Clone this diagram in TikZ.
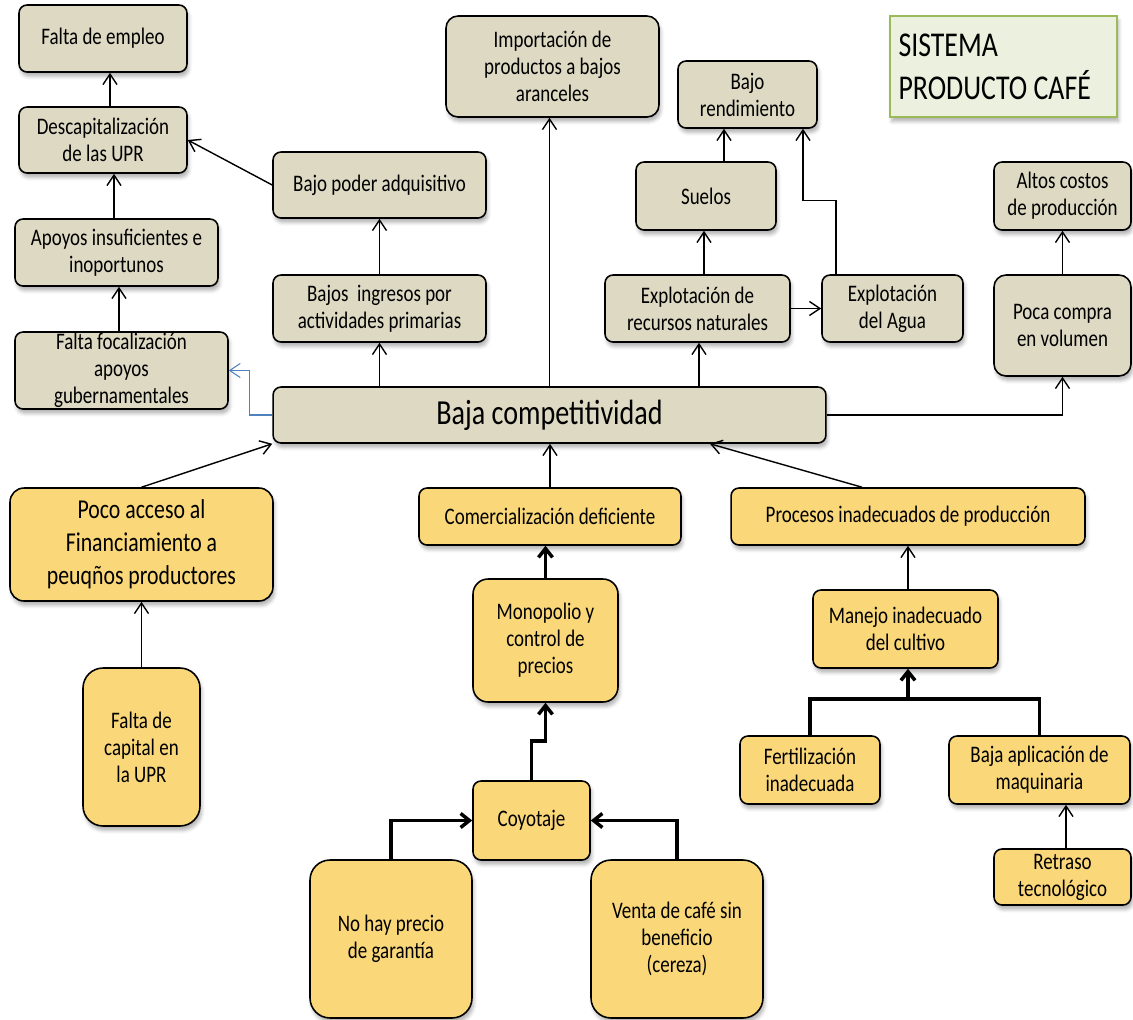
\documentclass[tikz,border=0pt]{standalone}
\usepackage{fontspec}
\setmainfont{Carlito}[FakeStretch=0.8]
\usetikzlibrary{arrows.meta,shadows.blur}

\definecolor{tanfill}{RGB}{221,217,195}
\definecolor{ylwfill}{RGB}{250,216,122}
\definecolor{verdefill}{RGB}{235,241,222}
\definecolor{verdeline}{RGB}{155,187,89}
\definecolor{azul}{RGB}{79,129,189}

\tikzset{
  caja/.style={draw=black, line width=0.9pt, rounded corners=0.16cm, align=center,
    inner sep=2pt, font=\fontsize{13.5}{15.4}\selectfont,
    blur shadow={shadow xshift=1pt, shadow yshift=-2.5pt, shadow blur radius=2pt, shadow opacity=30}},
  cajatan/.style={caja, fill=tanfill},
  cajaamarilla/.style={caja, fill=ylwfill},
  tam/.style 2 args={minimum width=#1cm, minimum height=#2cm},
  flecha/.style={-{Straight Barb[length=6pt,width=8pt]}, line width=0.8pt},
  gruesa/.style={-{Straight Barb[length=5pt,width=8pt]}, line width=2pt},
}

\begin{document}
\begin{tikzpicture}[x=0.02cm, y=-0.02cm]
  \useasboundingbox (0,0) rectangle (1133,1019);

  % efectos
  \node[cajatan, tam={3.36}{1.34}] (empleo) at (103,38.5) {Falta de empleo};
  \node[cajatan, tam={3.36}{1.32}] (descap) at (103,140) {Descapitalización\\de las UPR};
  \node[cajatan, tam={4.06}{1.34}] (apoyos) at (116.5,252.5) {Apoyos insuficientes e\\inoportunos};
  \node[cajatan, tam={4.26}{1.54}, inner ysep=0pt] (focal) at (121.5,370.5) {Falta focalización\\apoyos\\gubernamentales};
  \node[cajatan, tam={4.26}{1.32}] (poder) at (379.5,185) {Bajo poder adquisitivo};
  \node[cajatan, tam={4.26}{1.34}] (ingresos) at (379.5,308.5) {Bajos~ ingresos por\\actividades primarias};
  \node[cajatan, tam={4.26}{2.02}, rounded corners=0.24cm] (import) at (552.5,66.5) {Importación de\\productos a bajos\\aranceles};
  \node[cajatan, tam={2.78}{1.34}] (rend) at (747.5,94.5) {Bajo\\rendimiento};
  \node[cajatan, tam={2.80}{1.36}] (suelos) at (706,196) {Suelos};
  \node[cajatan, tam={3.70}{1.34}] (recursos) at (697.5,308.5) {Explotación de\\recursos naturales};
  \node[cajatan, tam={2.82}{1.34}] (agua) at (892.5,308.5) {Explotación\\del Agua};
  \node[cajatan, tam={2.74}{1.36}] (costos) at (1062.5,196) {Altos costos\\de producción};
  \node[cajatan, tam={2.74}{2.02}, rounded corners=0.24cm] (compra) at (1062.5,325.5) {Poca compra\\en volumen};
  \node[cajatan, tam={11.06}{1.12}, font=\fontsize{20}{24}\selectfont] (baja) at (549.5,415) {Baja competitividad};

  \node[draw=verdeline, line width=1pt, fill=verdefill, tam={4.54}{2.02}, text width=4.2cm,
    align=flush left, inner xsep=0.17cm, font=\fontsize{19.8}{24.4}\selectfont,
    blur shadow={shadow xshift=1pt, shadow yshift=-2.5pt, shadow blur radius=2pt, shadow opacity=30}]
    (sistema) at (1003.5,66.5) {SISTEMA\\PRODUCTO CAFÉ};

  % causas
  \node[cajaamarilla, tam={5.26}{2.26}, rounded corners=0.28cm, font=\fontsize{15.5}{18.7}\selectfont] (poco) at (141.5,544.5) {Poco acceso al\\Financiamiento a\\peuqños productores};
  \node[cajaamarilla, tam={2.34}{3.16}, rounded corners=0.4cm] (capital) at (141.5,747) {Falta de\\capital en\\la UPR};
  \node[cajaamarilla, tam={5.24}{1.14}] (comerc) at (550,516.5) {Comercialización deficiente};
  \node[cajaamarilla, tam={7.08}{1.14}] (procesos) at (908,516.5) {Procesos inadecuados de producción};
  \node[cajaamarilla, tam={2.90}{2.46}, rounded corners=0.3cm] (monop) at (545.5,640.5) {Monopolio y\\control de\\precios};
  \node[cajaamarilla, tam={3.70}{1.56}] (manejo) at (905.5,629) {Manejo inadecuado\\del cultivo};
  \node[cajaamarilla, tam={2.80}{1.36}] (fert) at (810,770) {Fertilización\\inadecuada};
  \node[cajaamarilla, tam={3.62}{1.36}] (maquin) at (1039.5,770) {Baja aplicación de\\maquinaria};
  \node[cajaamarilla, tam={2.74}{1.12}, inner ysep=0pt] (retraso) at (1062.5,877) {Retraso\\tecnológico};
  \node[cajaamarilla, tam={2.34}{1.58}] (coyo) at (531.5,820.5) {Coyotaje};
  \node[cajaamarilla, tam={3.24}{3.16}, rounded corners=0.4cm] (nohay) at (391,939) {No hay precio\\de garantía};
  \node[cajaamarilla, tam={3.44}{3.16}, rounded corners=0.4cm] (venta) at (677,939) {Venta de café sin\\beneficio\\(cereza)};

  \coordinate (junta) at (908,700);

  % conectores
  \draw[flecha] (descap.north -| 110,0) -- (empleo.south -| 110,0);
  \draw[flecha] (apoyos.north -| 114,0) -- (descap.south -| 114,0);
  \draw[flecha] (focal.north -| 119,0) -- (apoyos.south -| 119,0);
  \draw[flecha] (poder.west) -- (descap.east);
  \draw[flecha] (ingresos.north) -- (poder.south);
  \draw[flecha] (baja.north -| ingresos.south) -- (ingresos.south);
  \draw[flecha] (baja.north) -- (baja.north |- import.south);
  \draw[flecha] (baja.north -| 699,0) -- (recursos.south -| 699,0);
  \draw[flecha] (recursos.north -| 704,0) -- (suelos.south -| 704,0);
  \draw[flecha] (suelos.north -| 724,0) -- (rend.south -| 724,0);
  \draw[flecha] (recursos.east) -- (agua.west);
  \draw[flecha] (agua.north -| 836,0) -- ++(0,-74) -| (rend.south -| 803,0);
  \draw[flecha] (baja.east) -| (compra.south);
  \draw[flecha] (compra.north) -- (costos.south);
  \draw[flecha, azul, line width=0.6pt] (baja.west) -- ++(-23,0) |- (focal.east);

  \draw[flecha] (poco.north) -- (baja.south west);
  \draw[flecha] (capital.north) -- (poco.south);
  \draw[flecha] (comerc.north) -- (baja.south -| comerc.north);
  \draw[flecha] (procesos.north -| 862,0) -- (baja.south -| 710,0);
  \draw[gruesa] (monop.north) -- (monop.north |- comerc.south);
  \draw[gruesa] (coyo.north) -- ++(0,-39) -| (monop.south);
  \draw[gruesa] (nohay.north) |- (coyo.west);
  \draw[gruesa] (venta.north) |- (coyo.east);
  \draw[flecha] (manejo.north -| procesos.south) -- (procesos.south);
  \draw[line width=2pt] (fert.north) -- ++(0,-36) -| (maquin.north);
  \draw[gruesa] (junta) -- (manejo.south -| junta);
  \draw[flecha] (retraso.north -| 1066,0) -- (maquin.south -| 1066,0);
\end{tikzpicture}
\end{document}
